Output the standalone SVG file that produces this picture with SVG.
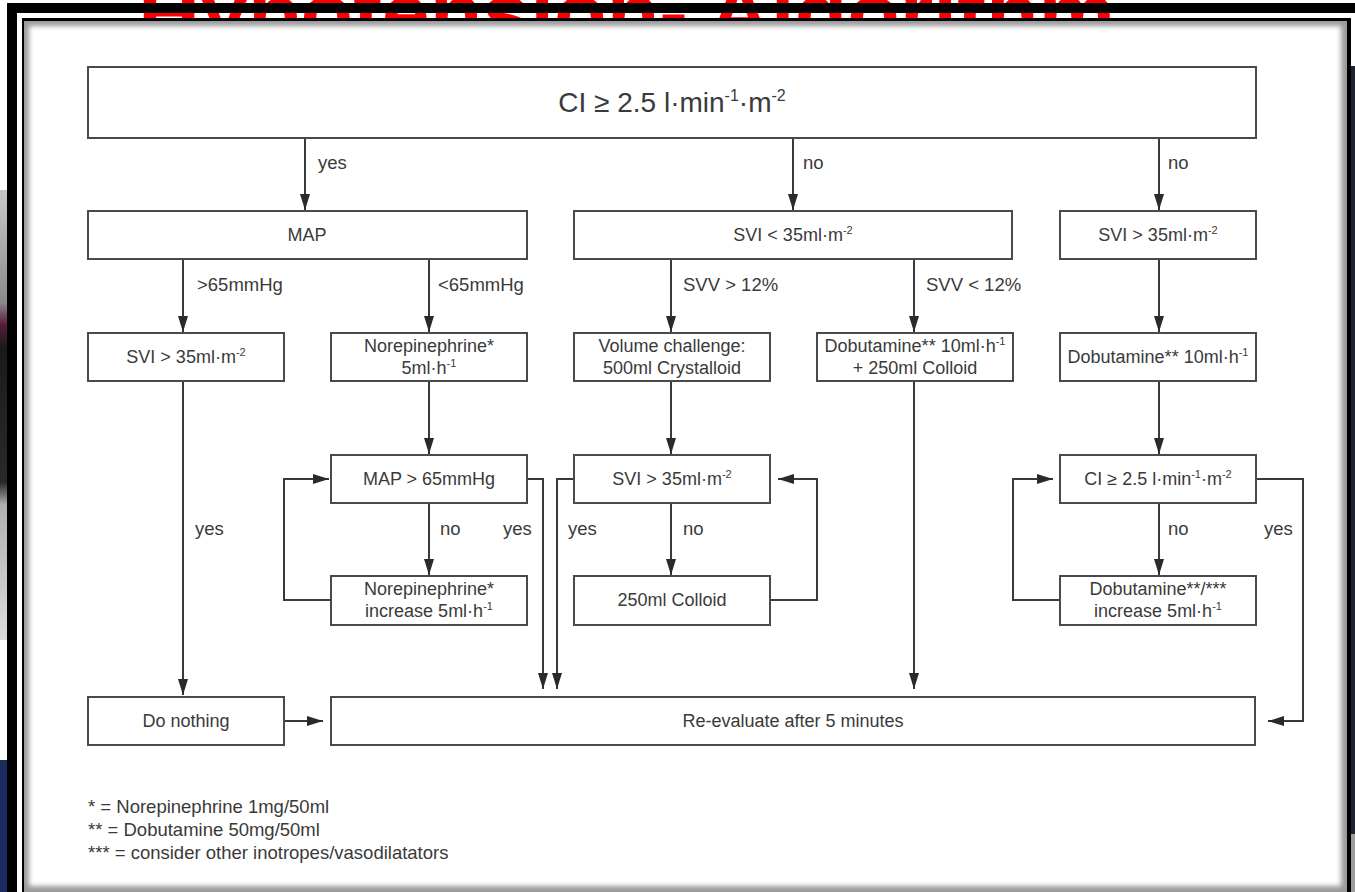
<svg xmlns="http://www.w3.org/2000/svg" width="1355" height="892" viewBox="0 0 1355 892">
<defs>
<style>
.box{fill:#fff;stroke:#4a4a4a;stroke-width:2}
.t{font-family:"Liberation Sans",Arial,sans-serif;font-size:18px;fill:#3a3a3a;text-anchor:middle}
.big{font-size:28px}
.l{font-family:"Liberation Sans",Arial,sans-serif;font-size:18.5px;fill:#3a3a3a}
.lg{font-family:"Liberation Sans",Arial,sans-serif;font-size:18.5px;fill:#3a3a3a}
.c{stroke:#3a3a3a;stroke-width:2;fill:none}
.ca{stroke:#3a3a3a;stroke-width:2;fill:none;marker-end:url(#ah)}
</style>
<marker id="ah" viewBox="0 0 16 10" refX="16" refY="5" markerWidth="16" markerHeight="10" markerUnits="userSpaceOnUse" orient="auto">
<path d="M0,0 L16,5 L0,10 z" fill="#2a2a2a"/>
</marker>
<filter id="soft" x="-5%" y="-5%" width="110%" height="110%"><feGaussianBlur stdDeviation="2.5"/></filter>
<linearGradient id="lstrip" x1="0" y1="0" x2="0" y2="1">
<stop offset="0" stop-color="#c8c8c8"/><stop offset="0.25" stop-color="#8a8a8a"/><stop offset="0.3" stop-color="#5a1a3a"/><stop offset="0.35" stop-color="#1a1a1a"/><stop offset="0.65" stop-color="#2a2a2a"/><stop offset="0.7" stop-color="#b0b0b0"/><stop offset="1" stop-color="#dcdcdc"/>
</linearGradient>
</defs>

<g id="background">
<rect x="0" y="0" width="1355" height="892" fill="#fff"/>
<rect x="0" y="190" width="8" height="450" fill="url(#lstrip)"/>
<rect x="0" y="760" width="8" height="132" fill="#1b2c5e"/>
<rect x="1350" y="66" width="5" height="768" fill="#1e2233"/>
<rect x="1350" y="834" width="5" height="58" fill="#9c9c9c"/>
<text x="138" y="40" font-family="Liberation Sans,Arial,sans-serif" font-size="80" font-weight="bold" fill="#ff0000" textLength="977" lengthAdjust="spacingAndGlyphs">Hypotension- Algorithm</text>
<rect x="7" y="3" width="1348" height="10" fill="#000"/>
<rect x="7" y="3" width="10" height="889" fill="#000"/>
<rect x="22" y="18" width="1329" height="874" fill="#000"/>
<rect x="24" y="21" width="1323" height="871" fill="#9a9a9a"/>
<rect x="29" y="26" width="1312" height="860" fill="#fff" filter="url(#soft)"/>
<rect x="34" y="31" width="1302" height="850" fill="#fff"/>
</g>

<g id="connectors">
<path class="ca" d="M305,138 V210"/>
<path class="ca" d="M793,138 V210"/>
<path class="ca" d="M1159,138 V210"/>
<path class="ca" d="M183,259 V332"/>
<path class="ca" d="M429,259 V332"/>
<path class="ca" d="M671,259 V332"/>
<path class="ca" d="M914,259 V332"/>
<path class="ca" d="M1159,259 V332"/>
<path class="ca" d="M429,381 V454"/>
<path class="ca" d="M671,381 V454"/>
<path class="ca" d="M1159,381 V454"/>
<path class="ca" d="M183,381 V695"/>
<path class="ca" d="M429,503 V575"/>
<path class="ca" d="M671,503 V575"/>
<path class="ca" d="M1159,503 V575"/>
<path class="ca" d="M331,600 H284 V479 H329"/>
<path class="ca" d="M770,600 H817 V479 H778"/>
<path class="ca" d="M1060,600 H1013 V479 H1053"/>
<path class="ca" d="M527,479 H543 V689"/>
<path class="ca" d="M574,479 H557 V689"/>
<path class="ca" d="M914,381 V689"/>
<path class="ca" d="M1256,479 H1303 V721 H1268"/>
<path class="ca" d="M284,721 H323"/>
<text class="l" x="318" y="169">yes</text>
<text class="l" x="803" y="169">no</text>
<text class="l" x="1168" y="169">no</text>
<text class="l" x="197" y="291">&gt;65mmHg</text>
<text class="l" x="438" y="291">&lt;65mmHg</text>
<text class="l" x="683" y="291">SVV &gt; 12%</text>
<text class="l" x="926" y="291">SVV &lt; 12%</text>
<text class="l" x="195" y="535">yes</text>
<text class="l" x="440" y="535">no</text>
<text class="l" x="503" y="535">yes</text>
<text class="l" x="568" y="535">yes</text>
<text class="l" x="683" y="535">no</text>
<text class="l" x="1168" y="535">no</text>
<text class="l" x="1264" y="535">yes</text>
</g>

<g id="n-ci-top">
<rect class="box" x="88" y="67" width="1168" height="71"/>
<text class="t big" x="672" y="112">CI ≥ 2.5 l·min<tspan font-size="16" dy="-11">-1</tspan><tspan dy="11">·m</tspan><tspan font-size="16" dy="-11">-2</tspan></text>
</g>

<g id="n-map">
<rect class="box" x="88" y="211" width="439" height="48"/>
<text class="t" x="307" y="241">MAP</text>
</g>
<g id="n-svi-lt">
<rect class="box" x="574" y="211" width="438" height="48"/>
<text class="t" x="793" y="241">SVI &lt; 35ml·m<tspan font-size="11" dy="-7">-2</tspan></text>
</g>
<g id="n-svi-gt-r">
<rect class="box" x="1060" y="211" width="196" height="48"/>
<text class="t" x="1158" y="241">SVI &gt; 35ml·m<tspan font-size="11" dy="-7">-2</tspan></text>
</g>

<g id="n-svi-gt-l">
<rect class="box" x="88" y="333" width="196" height="48"/>
<text class="t" x="186" y="363">SVI &gt; 35ml·m<tspan font-size="11" dy="-7">-2</tspan></text>
</g>
<g id="n-norepi">
<rect class="box" x="331" y="333" width="196" height="48"/>
<text class="t" x="429" y="352">Norepinephrine*</text>
<text class="t" x="429" y="374">5ml·h<tspan font-size="11" dy="-7">-1</tspan></text>
</g>
<g id="n-volume">
<rect class="box" x="574" y="333" width="196" height="48"/>
<text class="t" x="672" y="352">Volume challenge:</text>
<text class="t" x="672" y="374">500ml Crystalloid</text>
</g>
<g id="n-dobu-colloid">
<rect class="box" x="817" y="333" width="196" height="48"/>
<text class="t" x="915" y="352">Dobutamine** 10ml·h<tspan font-size="11" dy="-7">-1</tspan></text>
<text class="t" x="915" y="374">+ 250ml Colloid</text>
</g>
<g id="n-dobu">
<rect class="box" x="1060" y="333" width="196" height="48"/>
<text class="t" x="1158" y="363">Dobutamine** 10ml·h<tspan font-size="11" dy="-7">-1</tspan></text>
</g>

<g id="n-map65">
<rect class="box" x="331" y="455" width="196" height="48"/>
<text class="t" x="429" y="485">MAP &gt; 65mmHg</text>
</g>
<g id="n-svi-gt-m">
<rect class="box" x="574" y="455" width="196" height="48"/>
<text class="t" x="672" y="485">SVI &gt; 35ml·m<tspan font-size="11" dy="-7">-2</tspan></text>
</g>
<g id="n-ci-r">
<rect class="box" x="1060" y="455" width="196" height="48"/>
<text class="t" x="1158" y="485">CI ≥ 2.5 l·min<tspan font-size="11" dy="-7">-1</tspan><tspan dy="7">·m</tspan><tspan font-size="11" dy="-7">-2</tspan></text>
</g>

<g id="n-norepi-inc">
<rect class="box" x="331" y="576" width="196" height="49"/>
<text class="t" x="429" y="595">Norepinephrine*</text>
<text class="t" x="429" y="617">increase 5ml·h<tspan font-size="11" dy="-7">-1</tspan></text>
</g>
<g id="n-colloid">
<rect class="box" x="574" y="576" width="196" height="49"/>
<text class="t" x="672" y="606">250ml Colloid</text>
</g>
<g id="n-dobu-inc">
<rect class="box" x="1060" y="576" width="196" height="49"/>
<text class="t" x="1158" y="595">Dobutamine**/***</text>
<text class="t" x="1158" y="617">increase 5ml·h<tspan font-size="11" dy="-7">-1</tspan></text>
</g>

<g id="n-nothing">
<rect class="box" x="88" y="697" width="196" height="48"/>
<text class="t" x="186" y="727">Do nothing</text>
</g>
<g id="n-reeval">
<rect class="box" x="331" y="697" width="924" height="48"/>
<text class="t" x="793" y="727">Re-evaluate after 5 minutes</text>
</g>

<g id="legend">
<text class="lg" x="88" y="813">* = Norepinephrine 1mg/50ml</text>
<text class="lg" x="88" y="836">** = Dobutamine 50mg/50ml</text>
<text class="lg" x="88" y="859">*** = consider other inotropes/vasodilatators</text>
</g>
</svg>
